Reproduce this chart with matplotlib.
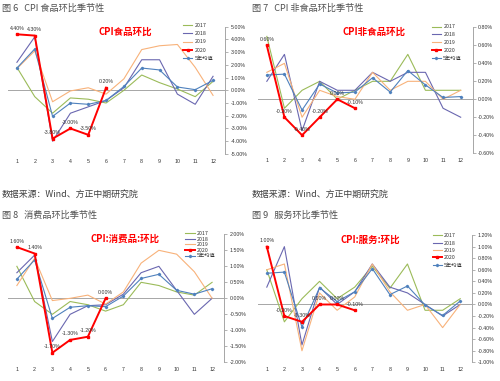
import matplotlib
matplotlib.use('Agg')
import matplotlib.pyplot as plt
from matplotlib.ticker import FixedLocator, FuncFormatter

plt.rcParams['font.family'] = ['Noto Sans CJK SC', 'DejaVu Sans']

months = list(range(1, 13))
series_names = ['2017', '2018', '2019', '2020', '5年均值']

# Panel 1: CPI food m/m (%)
food_2017 = [1.8, -0.5, -1.8, -0.6, -0.7, -1.0, 0.0, 1.2, 0.6, 0.1, -0.5, 0.7]
food_2018 = [2.2, 4.2, -4.0, -1.8, -1.3, -0.8, 0.2, 2.4, 2.4, -0.3, -1.1, 1.1]
food_2019 = [1.7, 3.1, -0.9, -0.05, 0.2, -0.3, 0.9, 3.2, 3.5, 3.6, 1.8, -0.4]
food_2020 = [4.4, 4.3, -3.8, -3.0, -3.5, 0.2]
food_avg = [1.75, 3.25, -2.05, -1.0, -1.1, -0.8, 0.3, 1.75, 1.6, 0.26, 0.05, 0.78]

# Panel 2: CPI non-food m/m (%)
nf_2017 = [0.7, -0.1, 0.1, 0.2, 0.0, 0.1, 0.2, 0.2, 0.5, 0.1, 0.1, 0.1]
nf_2018 = [0.2, 0.5, -0.35, 0.2, 0.1, 0.1, 0.3, 0.2, 0.3, 0.3, -0.1, -0.2]
nf_2019 = [0.3, 0.4, -0.2, 0.1, 0.03, 0.0, 0.3, 0.1, 0.2, 0.2, 0.0, 0.1]
nf_2020 = [0.6, -0.2, -0.4, -0.2, 0.0, -0.1]
nf_avg = [0.27, 0.28, -0.12, 0.17, 0.07, 0.08, 0.24, 0.08, 0.32, 0.16, 0.02, 0.03]

# Panel 3: CPI consumer goods m/m (%)
cg_2017 = [1.0, -0.1, -0.5, -0.1, -0.2, -0.4, -0.2, 0.5, 0.4, 0.2, 0.1, 0.5]
cg_2018 = [0.8, 1.35, -1.35, -0.5, -0.23, -0.2, 0.13, 0.8, 1.0, 0.25, -0.5, 0.0]
cg_2019 = [0.4, 1.25, -0.07, 0.0, 0.1, -0.18, 0.2, 1.1, 1.5, 1.38, 0.83, 0.0]
cg_2020 = [1.6, 1.4, -1.7, -1.3, -1.2, 0.0]
cg_avg = [0.6, 1.2, -0.63, -0.28, -0.23, -0.26, 0.07, 0.62, 0.75, 0.25, 0.13, 0.3]

# Panel 4: CPI services m/m (%)
sv_2017 = [0.6, -0.3, 0.1, 0.4, 0.1, 0.3, 0.66, 0.28, 0.7, -0.1, -0.1, 0.1]
sv_2018 = [0.3, 1.0, -0.7, 0.3, 0.0, 0.22, 0.7, 0.3, 0.2, 0.0, -0.2, 0.0]
sv_2019 = [0.6, 0.7, -0.8, 0.2, -0.1, 0.13, 0.7, 0.22, -0.1, 0.0, -0.4, 0.0]
sv_2020 = [1.0, -0.2, -0.3, 0.0, 0.0, -0.1]
sv_avg = [0.54, 0.56, -0.39, 0.29, 0.05, 0.22, 0.62, 0.17, 0.32, -0.01, -0.19, 0.06]

fig_titles = ['图 6   CPI 食品环比季节性', '图 7   CPI 非食品环比季节性',
              '图 8   消费品环比季节性', '图 9   服务环比季节性']
chart_titles = ['CPI食品环比', 'CPI非食品环比', 'CPI:消费品:环比', 'CPI:服务:环比']
source_text = '数据来源：Wind、方正中期研究院'

panels = [
    dict(data=[food_2017, food_2018, food_2019, food_2020, food_avg],
         ylim=(-5, 5), step=1.0, pos=(0.016, 0.596, 0.434, 0.334),
         leg=(0.806, 1.03), lsp=0.62),
    dict(data=[nf_2017, nf_2018, nf_2019, nf_2020, nf_avg],
         ylim=(-0.6, 0.8), step=0.2, pos=(0.516, 0.598, 0.429, 0.330),
         leg=(0.81, 1.024), lsp=0.53),
    dict(data=[cg_2017, cg_2018, cg_2019, cg_2020, cg_avg],
         ylim=(-2, 2), step=0.5, pos=(0.016, 0.049, 0.432, 0.336),
         leg=(0.82, 1.024), lsp=0.10),
    dict(data=[sv_2017, sv_2018, sv_2019, sv_2020, sv_avg],
         ylim=(-1.0, 1.2), step=0.2, pos=(0.516, 0.049, 0.428, 0.334),
         leg=(0.816, 1.014), lsp=0.44),
]

colors = ['#9BBB59', '#6A67B0', '#F8B27A', '#FF0000', '#4F81BD']
widths = [0.8, 0.8, 0.8, 1.4, 0.8]
markers = [None, None, None, 's', 'D']
msizes = [0, 0, 0, 1.6, 1.2]

fig = plt.figure(figsize=(5.0, 3.81), dpi=100)

for i, p in enumerate(panels):
    ax = fig.add_axes(p['pos'])
    handles = []
    for j, (vals, name) in enumerate(zip(p['data'], series_names)):
        x = months[:len(vals)]
        z = 5 if j == 3 else (4 if j == 4 else 2)
        ln, = ax.plot(x, vals, color=colors[j], lw=widths[j], marker=markers[j],
                      ms=msizes[j], zorder=z, label=name)
        handles.append(ln)
    vals20 = p['data'][3]
    for m, v in zip(months, vals20):
        ax.annotate(f'{v:.2f}%', (m, v), xytext=(0, 4.3), textcoords='offset points',
                    ha='center', va='center', fontsize=3.8, color='#333333',
                    family=['Liberation Sans', 'DejaVu Sans'], zorder=6)
    ax.axhline(0, color='#A6A6A6', lw=0.7, zorder=1)
    lo, hi = p['ylim']
    ax.set_ylim(lo, hi)
    ax.set_xlim(0.5, 12.67)
    n = int(round((hi - lo) / p['step']))
    ticks = [lo + k * p['step'] for k in range(n + 1)]
    ax.yaxis.set_major_locator(FixedLocator(ticks))
    ax.yaxis.set_major_formatter(FuncFormatter(lambda v, pos: f'{v:.2f}%'))
    ax.yaxis.tick_right()
    ax.tick_params(axis='y', labelsize=3.8, colors='#A6A6A6', labelcolor='#333333',
                   length=2, width=0.6, pad=2)
    ax.set_xticks(months)
    ax.tick_params(axis='x', labelsize=3.8, length=0, pad=3.5, labelcolor='#333333')
    for lab in ax.get_xticklabels() + ax.get_yticklabels():
        lab.set_family(['Liberation Sans', 'DejaVu Sans'])
    for s in ['left', 'top', 'bottom']:
        ax.spines[s].set_visible(False)
    ax.spines['right'].set_color('#A6A6A6')
    ax.spines['right'].set_linewidth(0.7)
    ax.set_facecolor('none')
    ax.text(0.54 if i != 3 else 0.526, 0.963, chart_titles[i], transform=ax.transAxes,
            ha='center', va='center', color='#FF0000', fontsize=6.8, fontweight='bold')
    leg = ax.legend(handles=handles, loc='upper left', bbox_to_anchor=p['leg'],
                    frameon=False, fontsize=3.8, borderaxespad=0, borderpad=0,
                    handlelength=1.8, handletextpad=0.4, labelspacing=p['lsp'])
    for t in leg.get_texts():
        t.set_color('#333333')

# Figure titles and source notes
fig.text(0.004, 1 - 8 / 381, fig_titles[0], fontsize=6.6, color='#505050', va='center')
fig.text(0.504, 1 - 8 / 381, fig_titles[1], fontsize=6.6, color='#505050', va='center')
fig.text(0.004, 1 - 215 / 381, fig_titles[2], fontsize=6.6, color='#505050', va='center')
fig.text(0.504, 1 - 215 / 381, fig_titles[3], fontsize=6.6, color='#505050', va='center')
fig.text(0.004, 1 - 194 / 381, source_text, fontsize=6.4, color='#404040', va='center',
         style='italic')
fig.text(0.504, 1 - 194 / 381, source_text, fontsize=6.4, color='#404040', va='center',
         style='italic')

fig.savefig('out.png', dpi=100)
